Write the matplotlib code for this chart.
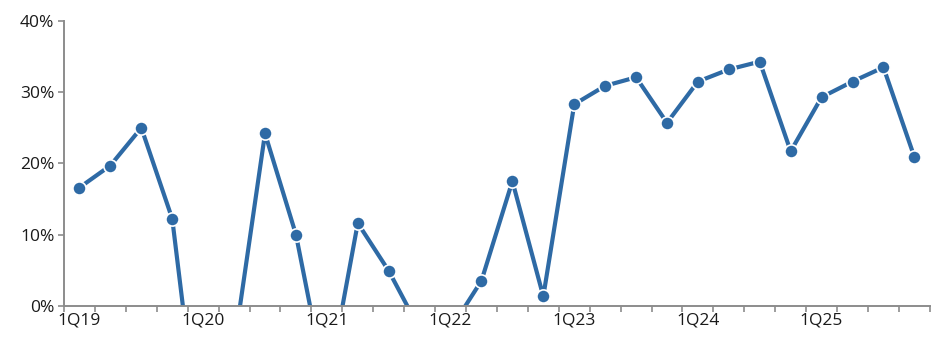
import numpy as np
import matplotlib.pyplot as plt
from matplotlib.ticker import FuncFormatter

plt.rcParams['font.family'] = ['Open Sans', 'DejaVu Sans']

# quarterly growth, %
quarters = [f"{q}Q{y}" for y in range(19, 26) for q in range(1, 5)]
growth = [16.6, 19.7, 25.0, 12.2, -23.4, -5.8, 24.2, 10.0,
          -12.0, 11.6, 4.9, -3.3, -3.3, 3.5, 17.5, 1.3,
          28.3, 30.9, 32.1, 25.7, 31.5, 33.2, 34.3, 21.7,
          29.3, 31.5, 33.5, 20.9]
yticks = [0, 10, 20, 30, 40]

blue = '#2e6aa5'
grey = '#8c8c8c'

fig = plt.figure(figsize=(9.36, 3.4), dpi=100)
ax = fig.add_axes([0.0684, 0.101, 0.925, 0.837])

x = np.arange(len(quarters))
ax.plot(x, growth, color=blue, lw=3.0, marker='o', ms=9.5,
        markerfacecolor=blue, markeredgecolor='white', markeredgewidth=1.2,
        solid_joinstyle='round')

ax.set_xlim(-0.5, len(quarters) - 0.5)
ax.set_ylim(0, 40)
ax.set_yticks(yticks)
ax.yaxis.set_major_formatter(FuncFormatter(lambda v, p: f"{v:.0f}%"))

# labels on every fourth quarter, small ticks between quarters
ax.set_xticks(x[::4])
ax.set_xticklabels(quarters[::4])
ax.set_xticks(np.arange(-0.5, len(quarters)), minor=True)
ax.tick_params(axis='x', which='major', length=0, pad=5)
ax.tick_params(axis='x', which='minor', length=4, color=grey, width=1.2)
ax.tick_params(axis='y', length=4, color=grey, width=1.2, pad=3)
ax.tick_params(labelsize=12.5, labelcolor='#1a1a1a')

for s in ['top', 'right']:
    ax.spines[s].set_visible(False)
for s in ['left', 'bottom']:
    ax.spines[s].set_color(grey)
    ax.spines[s].set_linewidth(1.4)

fig.savefig('out.png', dpi=100)
